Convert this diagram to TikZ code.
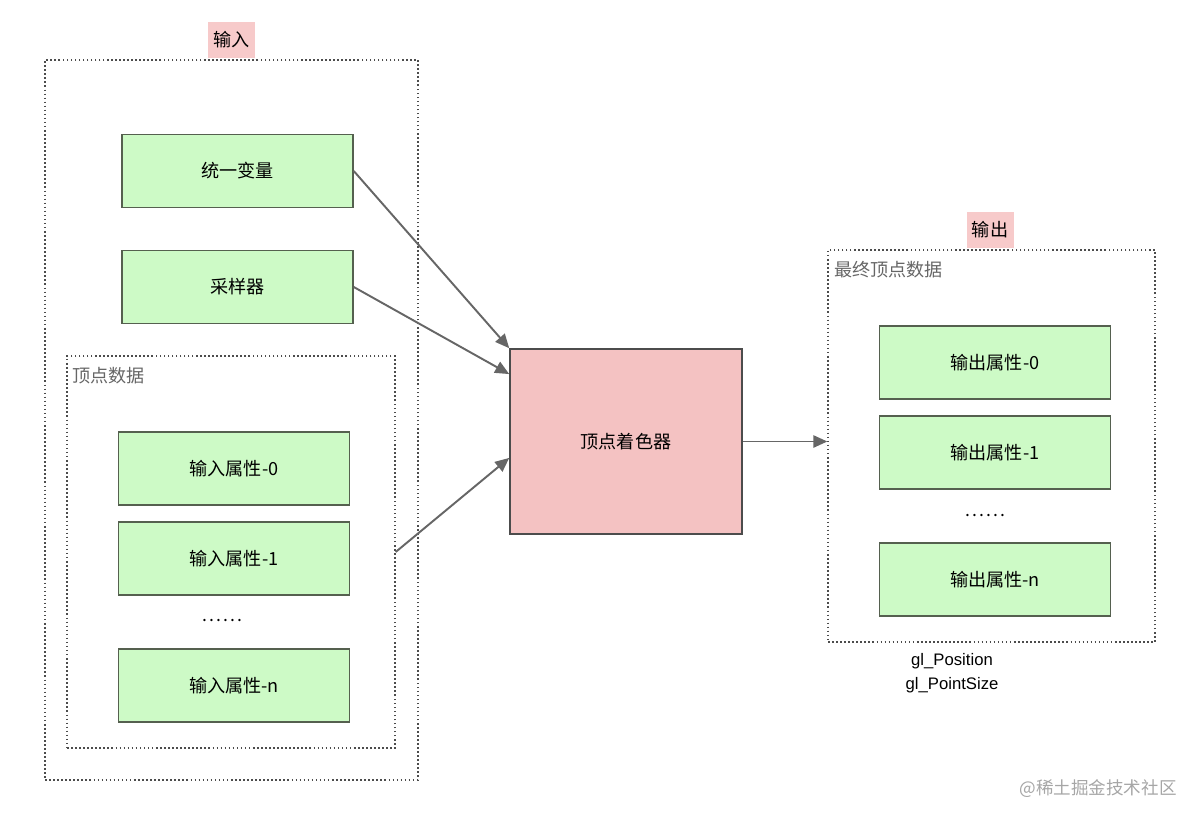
\documentclass[tikz,border=0pt]{standalone}
\usepackage{fontspec}
\setmainfont{Noto Sans CJK SC}
\newfontfamily\latinfont{Liberation Sans}
\usetikzlibrary{arrows.meta}
\definecolor{boxgreen}{HTML}{CDFAC6}
\definecolor{boxline}{HTML}{55604F}
\definecolor{shaderpink}{HTML}{F4C2C2}
\definecolor{tagpink}{HTML}{F7CACA}
\definecolor{arrowgray}{HTML}{666666}
\newcommand{\dotrow}{.\hspace{1.2pt}.\hspace{1.2pt}.\hspace{1.2pt}.\hspace{1.2pt}.\hspace{1.2pt}.}
\tikzset{
  attrbox/.style={draw=boxline, fill=boxgreen, line width=0.9pt, minimum width=4.62cm, minimum height=1.46cm, font=\fontsize{10.3}{12}\selectfont},
  groupbox/.style={draw=black!70, dash pattern=on 0.9pt off 1.4pt, line width=0.8pt},
  tag/.style={fill=tagpink, minimum width=0.94cm, minimum height=0.72cm, inner sep=0pt, font=\fontsize{10.3}{12}\selectfont},
  grouplabel/.style={text=black!60, anchor=west, inner sep=0pt, font=\fontsize{10.3}{12}\selectfont},
  flow/.style={-{Triangle[length=8pt,width=7pt]}, draw=arrowgray, fill=arrowgray, line width=1.1pt}
}
\begin{document}
\begin{tikzpicture}[x=0.02cm, y=-0.02cm]
  \useasboundingbox (0,0) rectangle (1200,821);

  % Input
  \node[groupbox, minimum width=7.46cm, minimum height=14.4cm] (input) at (231.5,420) {};
  \node[tag] (intag) at (231.5,40) {输入};
  \node[attrbox] (uniform) at (237.5,171) {统一变量};
  \node[attrbox] (sampler) at (237.5,287) {采样器};

  \node[groupbox, minimum width=6.56cm, minimum height=7.84cm] (vdata) at (231,552) {};
  \node[grouplabel] (vdatalabel) at (72,376) {顶点数据};
  \node[attrbox] (in0) at (234,468.5) {输入属性-0};
  \node[attrbox] (in1) at (234,558.5) {输入属性-1};
  \node[font=\fontsize{10}{12}\selectfont] (indots) at (222,621) {\dotrow};
  \node[attrbox] (inn) at (234,685.5) {输入属性-n};

  % Shader
  \node[draw=black!70, fill=shaderpink, line width=0.9pt, minimum width=4.64cm, minimum height=3.7cm, font=\fontsize{10.3}{12}\selectfont] (shader) at (626,441.5) {顶点着色器};

  % Output
  \node[groupbox, minimum width=6.54cm, minimum height=7.84cm] (output) at (991.5,446) {};
  \node[tag] (outtag) at (990,230) {输出};
  \node[grouplabel] (finallabel) at (834,270) {最终顶点数据};
  \node[attrbox] (out0) at (995,362.5) {输出属性-0};
  \node[attrbox] (out1) at (995,452.5) {输出属性-1};
  \node[font=\fontsize{10}{12}\selectfont] (outdots) at (985,516) {\dotrow};
  \node[attrbox] (outn) at (995,579.5) {输出属性-n};

  \node[font=\latinfont\fontsize{9.5}{11}\selectfont] (glpos) at (952,661) {gl\_Position};
  \node[font=\latinfont\fontsize{9.5}{11}\selectfont] (glsize) at (952,685) {gl\_PointSize};

  % Arrows
  \draw[flow] (uniform.east) -- (shader.north west);
  \draw[flow] (sampler.east) -- (shader.150);
  \draw[flow] (vdata.east) -- (shader.188);
  \draw[flow] (shader.east) -- (shader.east -| output.west);

  \node[text=black!35, font=\fontsize{10}{12}\selectfont] (mark) at (1098,789) {@稀土掘金技术社区};
\end{tikzpicture}
\end{document}
